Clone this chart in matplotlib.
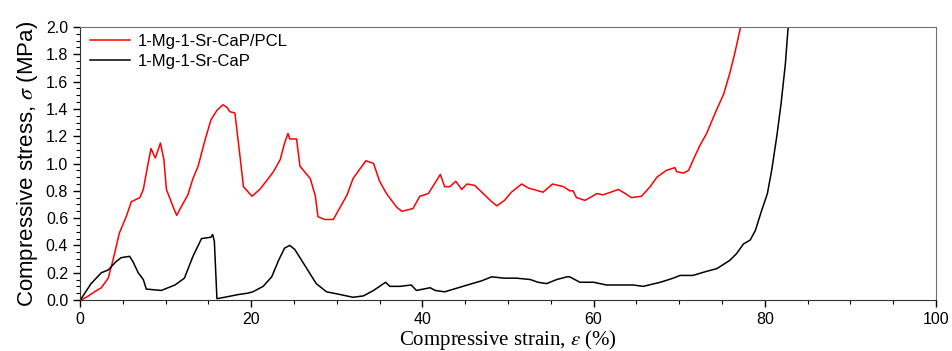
import numpy as np
import matplotlib
matplotlib.use('Agg')
import matplotlib.pyplot as plt
from matplotlib.ticker import MultipleLocator

# compressive stress-strain curves (strain in %, stress in MPa)
strain_pcl = [0.0, 0.15, 1.0, 1.7, 2.5, 3.3, 3.85, 4.6, 5.4, 6.0, 7.0, 7.4, 7.9, 8.3, 8.8,
              9.4, 9.8, 10.1, 10.9, 11.3, 11.8, 12.6, 13.2, 13.8, 14.6, 15.3, 16.0, 16.7,
              17.2, 17.5, 18.1, 18.7, 19.1, 20.1, 21.0, 22.0, 22.6, 23.4, 23.9, 24.3, 24.5,
              25.3, 25.7, 26.9, 27.5, 27.8, 28.6, 29.6, 30.4, 31.2, 31.9, 32.7, 33.4, 34.3,
              35.0, 35.8, 37.0, 37.6, 38.9, 39.7, 40.7, 41.7, 42.1, 42.6, 43.2, 43.9, 44.6,
              45.2, 46.1, 47.1, 48.1, 48.7, 49.6, 50.4, 51.6, 52.4, 54.1, 55.2, 56.5, 57.2,
              57.6, 58.0, 59.0, 60.4, 61.1, 62.9, 63.7, 64.4, 65.6, 66.6, 67.4, 68.5, 69.5,
              69.7, 70.5, 71.1, 71.8, 72.4, 73.2, 74.2, 75.2, 75.9, 76.5, 77.1, 77.3]
stress_pcl = [0.0, 0.0, 0.03, 0.06, 0.09, 0.16, 0.29, 0.49, 0.61, 0.72, 0.75, 0.81, 0.98,
              1.11, 1.04, 1.15, 1.03, 0.81, 0.68, 0.62, 0.68, 0.77, 0.89, 0.98, 1.17, 1.32,
              1.39, 1.43, 1.41, 1.38, 1.37, 1.05, 0.83, 0.76, 0.81, 0.89, 0.94, 1.03, 1.15,
              1.22, 1.18, 1.18, 0.98, 0.89, 0.76, 0.61, 0.59, 0.59, 0.68, 0.77, 0.89, 0.96,
              1.02, 1.00, 0.87, 0.78, 0.68, 0.65, 0.67, 0.76, 0.78, 0.88, 0.92, 0.83, 0.83,
              0.87, 0.81, 0.85, 0.84, 0.78, 0.72, 0.69, 0.73, 0.79, 0.85, 0.82, 0.79, 0.85,
              0.83, 0.80, 0.80, 0.75, 0.73, 0.78, 0.77, 0.81, 0.78, 0.75, 0.76, 0.83, 0.90,
              0.95, 0.97, 0.94, 0.93, 0.95, 1.05, 1.13, 1.22, 1.37, 1.51, 1.66, 1.81, 1.98,
              2.05]

strain_cap = [0.0, 0.15, 1.3, 2.5, 3.3, 4.2, 4.8, 5.8, 6.2, 6.8, 7.4, 7.75, 9.5, 11.1,
              12.2, 13.2, 14.2, 15.3, 15.5, 15.7, 16.0, 16.9, 18.5, 19.6, 20.2, 21.4, 22.4,
              23.2, 23.9, 24.5, 25.1, 25.9, 26.7, 27.6, 28.8, 30.4, 31.9, 33.1, 34.3, 35.7,
              36.2, 37.4, 38.7, 39.3, 40.9, 41.5, 42.6, 44.2, 45.8, 46.9, 48.1, 49.5, 51.0,
              52.6, 53.5, 54.5, 55.7, 56.9, 57.2, 58.4, 60.0, 61.5, 63.1, 64.6, 65.8, 67.8,
              69.3, 70.1, 71.6, 73.2, 74.4, 75.9, 76.7, 77.5, 78.3, 78.9, 79.6, 80.3, 80.8,
              81.4, 81.9, 82.4, 82.7, 82.9]
stress_cap = [0.0, 0.01, 0.12, 0.20, 0.22, 0.28, 0.31, 0.32, 0.28, 0.20, 0.15, 0.08, 0.07,
              0.11, 0.16, 0.32, 0.45, 0.46, 0.48, 0.43, 0.01, 0.02, 0.04, 0.05, 0.06, 0.10,
              0.17, 0.29, 0.38, 0.40, 0.37, 0.29, 0.21, 0.12, 0.06, 0.04, 0.02, 0.03, 0.07,
              0.13, 0.10, 0.10, 0.11, 0.07, 0.09, 0.07, 0.06, 0.09, 0.12, 0.14, 0.17, 0.16,
              0.16, 0.15, 0.13, 0.12, 0.15, 0.17, 0.17, 0.13, 0.13, 0.11, 0.11, 0.11, 0.10,
              0.13, 0.16, 0.18, 0.18, 0.21, 0.23, 0.29, 0.34, 0.41, 0.44, 0.51, 0.65, 0.78,
              0.95, 1.20, 1.44, 1.73, 1.98, 2.05]

labels = ['1-Mg-1-Sr-CaP/PCL', '1-Mg-1-Sr-CaP']

plt.rcParams['font.family'] = ['Liberation Sans', 'DejaVu Sans']
plt.rcParams['mathtext.fontset'] = 'stix'

fig = plt.figure(figsize=(9.53, 3.51), dpi=100)
ax = fig.add_axes([0.0839, 0.1453, 0.8983, 0.7777])

ax.plot(strain_pcl, stress_pcl, color='#ff0000', lw=1.1, label=labels[0])
ax.plot(strain_cap, stress_cap, color='black', lw=1.1, label=labels[1])

ax.set_xlim(0, 100)
ax.set_ylim(0, 2.0)
ax.xaxis.set_major_locator(MultipleLocator(20))
ax.xaxis.set_minor_locator(MultipleLocator(5))
ax.yaxis.set_major_locator(MultipleLocator(0.2))
ax.yaxis.set_minor_locator(MultipleLocator(0.05))
ax.yaxis.set_major_formatter(matplotlib.ticker.FormatStrFormatter('%.1f'))
ax.tick_params(which='both', direction='out', top=False, right=False, labelsize=11.5,
               colors='black')
ax.tick_params(which='major', length=5, width=1)
ax.tick_params(which='minor', length=3, width=0.8)

for side in ['top', 'right']:
    ax.spines[side].set_color('#707070')
for side in ['left', 'bottom']:
    ax.spines[side].set_color('#333333')

ax.set_xlabel(r'Compressive strain, $\varepsilon$ (%)', family='Liberation Serif',
              fontsize=15, labelpad=1)
ax.set_ylabel(r'Compressive stress, $\sigma$ (MPa)', fontsize=16, labelpad=4)

ax.legend(loc='upper left', bbox_to_anchor=(0.0117, 0.975), frameon=False,
          fontsize=12, handlelength=2.4, handletextpad=0.45, labelspacing=0.3,
          borderpad=0, borderaxespad=0)

plt.savefig('out.png', dpi=100)
